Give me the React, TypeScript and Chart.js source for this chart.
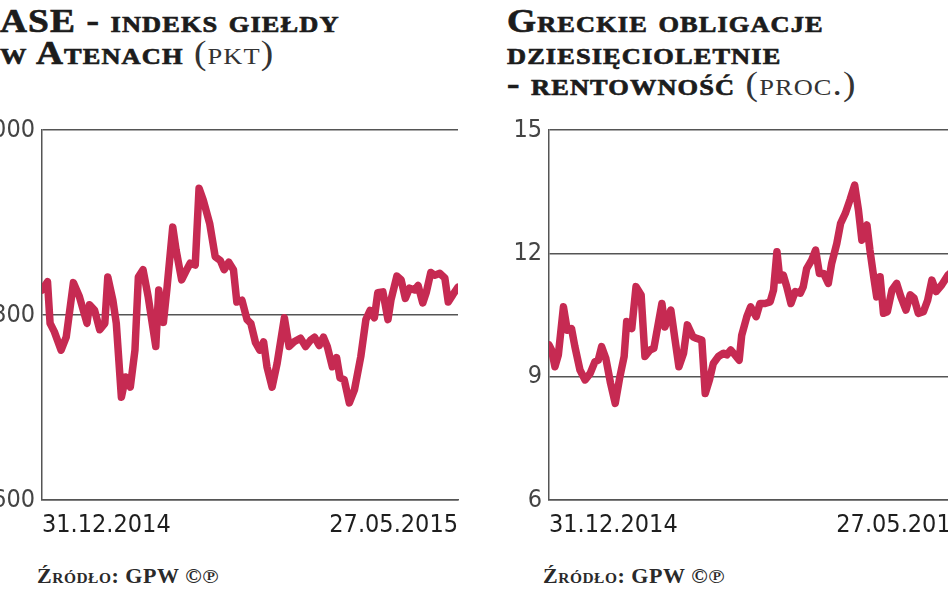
import { useEffect, useRef } from 'react';
import { Chart, registerables } from 'chart.js';

Chart.register(...registerables);

// ---- data ----
const xTickDays = [0, 98];
const xTickLabels = ['31.12.2014', '27.05.2015'];

const aseYTicks = [600, 800, 1000];
const aseDays = [
  0, 1.3, 1.9, 2.9, 4.5, 5.7, 7.4, 8.8, 10.6, 11.2,
  12.4, 13.6, 14.8, 15.5, 16.7, 17.5, 18.7, 19.7, 20.8, 21.9,
  22.7, 23.8, 25.0, 26.8, 27.5, 28.6, 29.4, 30.8, 31.6, 32.9,
  34.1, 34.9, 36.1, 37.0, 38.0, 39.5, 40.8, 42.0, 42.9, 44.0,
  45.1, 45.9, 47.1, 48.3, 49.2, 50.3, 51.3, 52.2, 53.0, 54.2,
  55.4, 57.1, 58.2, 59.4, 60.9, 62.1, 63.3, 64.2, 65.3, 66.3,
  67.2, 68.4, 69.4, 70.2, 71.2, 72.4, 73.6, 75.1, 76.3, 77.3,
  78.3, 79.1, 80.3, 81.5, 82.2, 83.6, 84.6, 85.6, 86.6, 87.8,
  88.6, 89.7, 90.5, 91.6, 92.5, 93.7, 94.9, 95.7, 96.8, 98.0,
];
const aseValues = [
  827, 836, 791, 782, 762, 776, 835, 820, 791, 811,
  805, 784, 791, 841, 816, 791, 711, 733, 722, 762,
  841, 849, 820, 766, 827, 792, 827, 895, 870, 838,
  849, 856, 854, 937, 924, 899, 863, 859, 849, 857,
  849, 814, 816, 795, 791, 770, 762, 771, 744, 722,
  748, 797, 766, 771, 775, 766, 773, 776, 767, 776,
  766, 744, 754, 732, 730, 705, 719, 755, 795, 805,
  797, 824, 825, 795, 816, 842, 838, 818, 829, 827,
  832, 813, 824, 846, 843, 845, 840, 814, 822, 830,
];

const bondYTicks = [6, 9, 12, 15];
const bondDays = [
  0, 0.6, 1.4, 2.2, 3.4, 4.3, 5.3, 6.1, 7.3, 8.5,
  9.7, 10.8, 11.6, 12.4, 13.4, 14.5, 15.6, 16.7, 17.7, 18.3,
  19.5, 20.5, 21.7, 22.6, 23.8, 24.7, 26.6, 27.3, 28.7, 29.7,
  30.6, 31.7, 32.6, 33.9, 34.8, 36.0, 36.8, 37.8, 38.7, 39.9,
  41.1, 41.9, 42.8, 43.8, 44.8, 45.4, 46.6, 47.5, 48.8, 49.7,
  50.9, 52.1, 52.9, 53.7, 54.4, 55.2, 56.0, 57.0, 58.0, 59.2,
  59.9, 60.7, 61.9, 62.8, 63.7, 64.7, 65.8, 66.6, 67.8, 68.7,
  69.8, 70.9, 72.0, 72.9, 73.7, 74.9, 75.6, 76.6, 77.2, 78.0,
  78.8, 79.7, 80.8, 81.9, 82.9, 84.1, 85.1, 86.0, 87.0, 88.2,
  89.2, 90.2, 91.2, 92.5, 94.0, 96.0, 98.0,
];
const bondValues = [
  9.77, 9.65, 9.24, 9.53, 10.7, 10.13, 10.17, 9.73, 9.16, 8.92,
  9.08, 9.36, 9.4, 9.73, 9.44, 8.84, 8.35, 9.0, 9.49, 10.34,
  10.17, 11.19, 10.99, 9.49, 9.65, 9.69, 10.78, 10.21, 10.62, 9.89,
  9.24, 9.57, 10.26, 9.97, 9.93, 9.89, 8.59, 8.92, 9.32, 9.49,
  9.57, 9.53, 9.65, 9.53, 9.4, 10.01, 10.46, 10.7, 10.46, 10.78,
  10.78, 10.82, 11.11, 12.04, 11.35, 11.47, 11.19, 10.78, 11.07, 11.03,
  11.19, 11.63, 11.84, 12.08, 11.51, 11.51, 11.27, 11.76, 12.24, 12.73,
  12.97, 13.3, 13.66, 13.05, 12.32, 12.69, 12.08, 11.35, 10.94, 11.43,
  10.54, 10.58, 11.11, 11.27, 10.94, 10.62, 10.99, 10.91, 10.54, 10.58,
  10.86, 11.35, 11.07, 11.23, 11.47, 11.65, 11.6,
];

const LINE = '#c62a52';
const GRID = '#555555';
const TICK_FONT = '"DejaVu Sans Condensed", "Liberation Sans Narrow", "DejaVu Sans", sans-serif';
const TITLE_FONT = '"Liberation Serif", "DejaVu Serif", serif';

function LineChart(props: { days: number[]; values: number[]; yTicks: number[]; left: number }) {
  const ref = useRef<HTMLCanvasElement | null>(null);
  useEffect(() => {
    if (!ref.current) return;
    const { days, values, yTicks } = props;
    const chart = new Chart(ref.current, {
      type: 'line',
      data: {
        datasets: [
          {
            data: days.map((d, i) => ({ x: d, y: values[i] })),
            borderColor: LINE,
            borderWidth: 7.5,
            borderJoinStyle: 'round',
            borderCapStyle: 'round',
            pointRadius: 0,
            tension: 0,
            fill: false,
          },
        ],
      },
      options: {
        animation: false,
        responsive: false,
        layout: { padding: { top: 30, right: 12, bottom: 0, left: 0 } },
        plugins: { legend: { display: false }, tooltip: { enabled: false } },
        scales: {
          x: {
            type: 'linear',
            min: xTickDays[0],
            max: xTickDays[xTickDays.length - 1],
            afterBuildTicks: (s: any) => {
              s.ticks = xTickDays.map((v) => ({ value: v }));
            },
            afterFit: (s: any) => {
              s.height = 40;
            },
            grid: { display: false, drawTicks: false },
            border: { display: true, color: GRID, width: 1.5 },
            ticks: {
              align: 'inner',
              padding: 10,
              autoSkip: false,
              maxRotation: 0,
              color: '#1e1e1e',
              font: { family: TICK_FONT, size: 25 },
              callback: (v: any) => {
                const i = xTickDays.indexOf(Number(v));
                return i >= 0 ? xTickLabels[i] : '';
              },
            },
          },
          y: {
            type: 'linear',
            min: yTicks[0],
            max: yTicks[yTicks.length - 1],
            afterBuildTicks: (s: any) => {
              s.ticks = yTicks.map((v) => ({ value: v }));
            },
            afterFit: (s: any) => {
              s.width = 82;
            },
            grid: { color: GRID, lineWidth: 1.5, drawTicks: false },
            border: { display: true, color: GRID, width: 1.5 },
            ticks: {
              padding: 7,
              color: '#444444',
              font: { family: TICK_FONT, size: 25 },
            },
          },
        },
      },
    } as any);
    return () => chart.destroy();
  }, []);
  return (
    <canvas
      ref={ref}
      width={510}
      height={440}
      style={{ position: 'absolute', left: props.left, top: 100, width: 510, height: 440 }}
    />
  );
}

const titleStyle: any = {
  position: 'absolute',
  top: 5,
  font: `bold 34px ${TITLE_FONT}`,
  fontVariant: 'small-caps',
  lineHeight: '31.5px',
  letterSpacing: '1px',
  WebkitTextStroke: '0.7px #1c1c1c',
  color: '#1c1c1c',
  whiteSpace: 'nowrap',
  transform: 'scaleX(1.1)',
  transformOrigin: '0 0',
};
const sourceStyle: any = {
  position: 'absolute',
  top: 565,
  font: `bold 20px ${TITLE_FONT}`,
  fontVariant: 'small-caps',
  letterSpacing: '0.5px',
  color: '#2a2a2a',
  whiteSpace: 'nowrap',
  transform: 'scaleX(1.1)',
  transformOrigin: '0 0',
};
const paren: any = { fontWeight: 'normal', WebkitTextStroke: '0px', color: '#333' };

export default function App() {
  return (
    <div
      style={{
        position: 'absolute',
        left: 0,
        top: 0,
        width: 948,
        height: 593,
        overflow: 'hidden',
        background: '#fff',
      }}
    >
      <div style={{ ...titleStyle, left: 0 }}>
        ASE - indeks giełdy
        <br />
        w Atenach <span style={paren}>(pkt)</span>
      </div>
      <div style={{ ...titleStyle, left: 507 }}>
        Greckie obligacje
        <br />
        dziesięcioletnie
        <br />- rentowność <span style={paren}>(proc.)</span>
      </div>
      <LineChart days={aseDays} values={aseValues} yTicks={aseYTicks} left={-40} />
      <LineChart days={bondDays} values={bondValues} yTicks={bondYTicks} left={467} />
      <div style={{ ...sourceStyle, left: 37 }}>Źródło: GPW ©℗</div>
      <div style={{ ...sourceStyle, left: 543 }}>Źródło: GPW ©℗</div>
    </div>
  );
}
